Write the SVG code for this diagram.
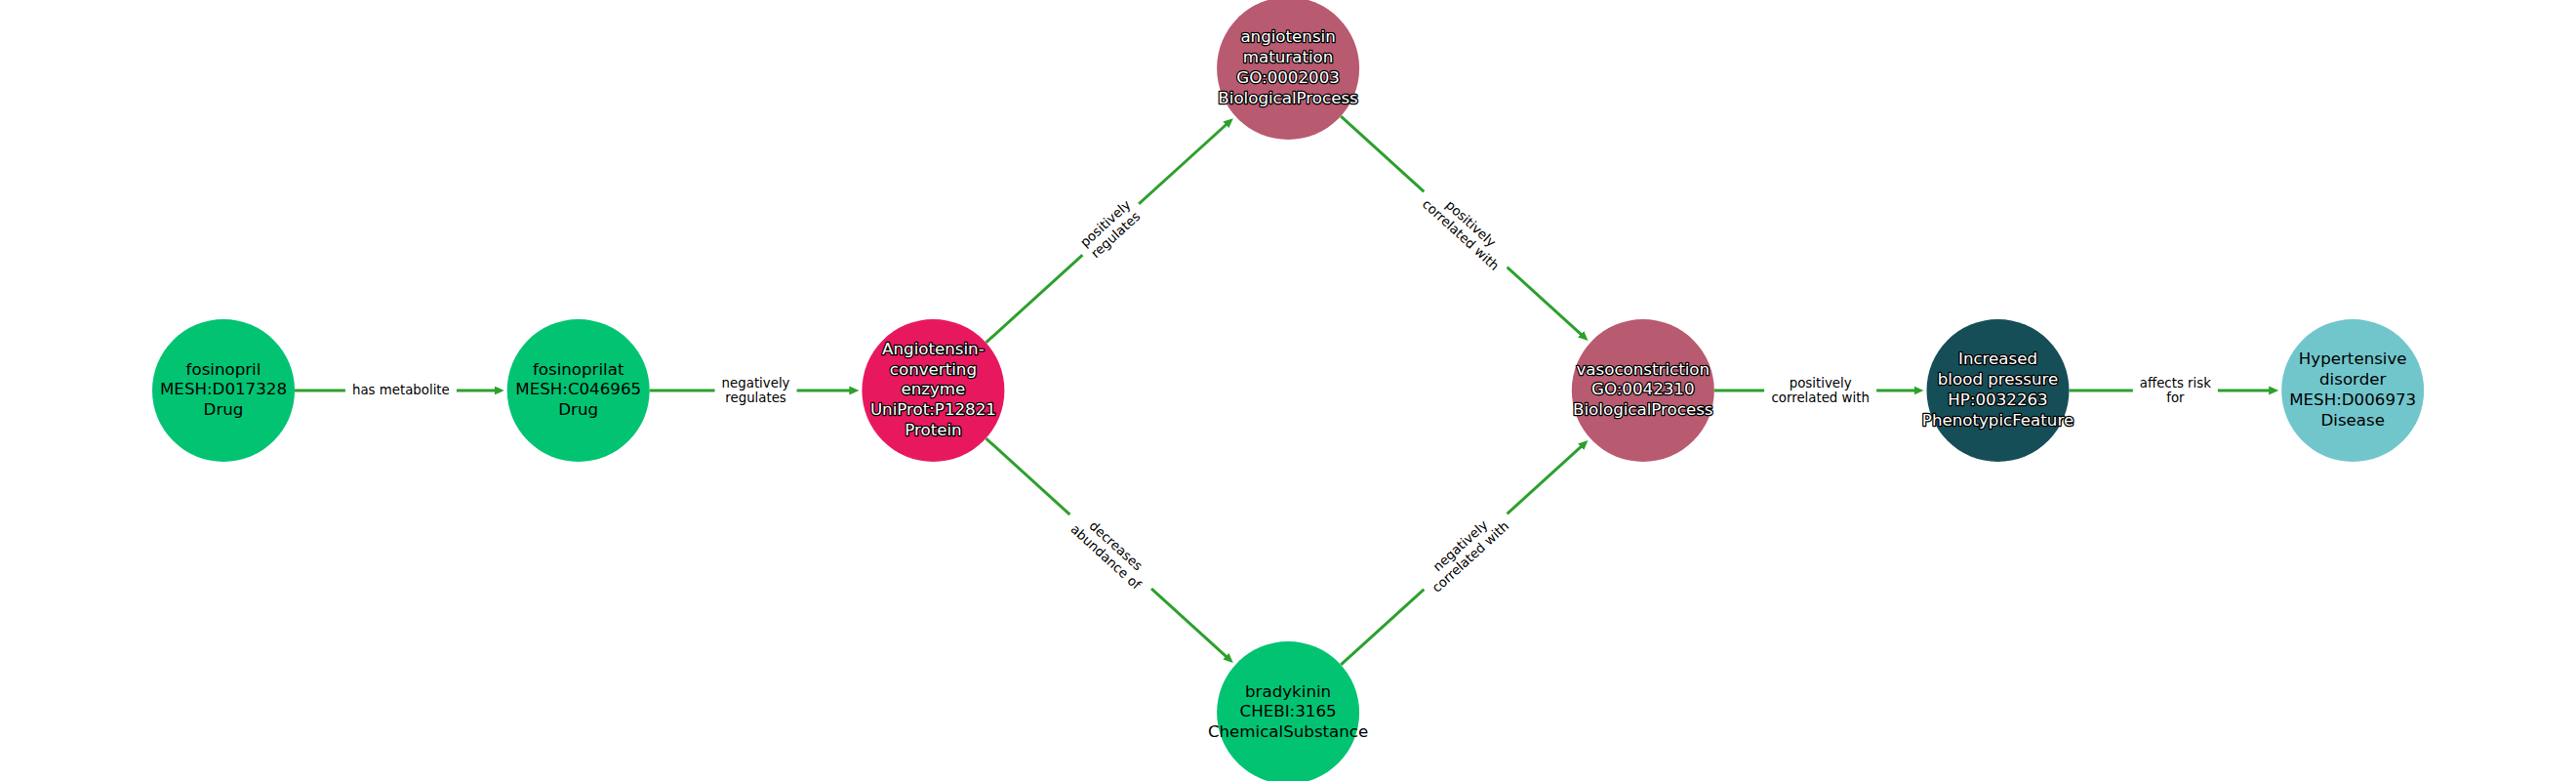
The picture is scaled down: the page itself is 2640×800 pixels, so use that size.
<svg xmlns="http://www.w3.org/2000/svg" width="2640" height="800" viewBox="0 0 2640 800">
<defs>
<marker id="ah" markerUnits="userSpaceOnUse" markerWidth="12" markerHeight="10" refX="2" refY="5" orient="auto">
<path d="M0,0.5 L10,5 L0,9.5 z" fill="#2ca02c"/>
</marker>
</defs>
<style>
.edge{stroke:#2ca02c;stroke-width:3;fill:none;marker-end:url(#ah)}
.lbox{fill:#ffffff;stroke:#ffffff;stroke-width:1}
.el{font-family:"DejaVu Sans",sans-serif;font-size:13.33px;fill:#000;text-anchor:middle}
.nl{font-family:"DejaVu Sans",sans-serif;font-size:16.67px;text-anchor:middle}
.dark{fill:#000}
.light{fill:#fff;stroke:#000;stroke-width:2.6;stroke-linejoin:round;paint-order:stroke}
.drug{fill:#02c372}
.prot{fill:#e8185f}
.bp{fill:#b85a70}
.pheno{fill:#164e57}
.dis{fill:#71c6cc}
</style>
<rect width="2640" height="800" fill="#ffffff"/>
<g id="connectors">
<line class="edge" x1="302" y1="400" x2="508.7" y2="400"/>
<line class="edge" x1="665.7" y1="400" x2="872.4" y2="400"/>
<line class="edge" x1="1010.5" y1="350.9" x2="1257.9" y2="126.5"/>
<line class="edge" x1="1374.2" y1="119.1" x2="1621.6" y2="343.6"/>
<line class="edge" x1="1010.5" y1="449.1" x2="1257.9" y2="673.6"/>
<line class="edge" x1="1374.2" y1="680.9" x2="1621.6" y2="456.4"/>
<line class="edge" x1="1756.8" y1="400" x2="1963.5" y2="400"/>
<line class="edge" x1="2120.5" y1="400" x2="2327.2" y2="400"/>
<g id="lbl-ab" transform="translate(410.85,400)">
<rect class="lbox" x="-56.5" y="-12" width="113" height="24" rx="4"/>
<text class="el" x="0" y="4.2">has metabolite</text>
</g>
<g id="lbl-bc" transform="translate(774.55,400)">
<rect class="lbox" x="-41.5" y="-20" width="83" height="40" rx="4"/>
<text class="el" x="0" y="-3.5">negatively</text>
<text class="el" x="0" y="12">regulates</text>
</g>
<g id="lbl-cd" transform="translate(1138.25,235) rotate(-42.2)">
<rect class="lbox" x="-38.5" y="-20" width="77" height="40" rx="4"/>
<text class="el" x="0" y="-3.5">positively</text>
<text class="el" x="0" y="12">regulates</text>
</g>
<g id="lbl-de" transform="translate(1501.95,235) rotate(42.2)">
<rect class="lbox" x="-57" y="-20" width="114" height="40" rx="4"/>
<text class="el" x="0" y="-3.5">positively</text>
<text class="el" x="0" y="12">correlated with</text>
</g>
<g id="lbl-ch" transform="translate(1138.25,565) rotate(42.2)">
<rect class="lbox" x="-56" y="-20" width="112" height="40" rx="4"/>
<text class="el" x="0" y="-3.5">decreases</text>
<text class="el" x="0" y="12">abundance of</text>
</g>
<g id="lbl-he" transform="translate(1501.95,565) rotate(-42.2)">
<rect class="lbox" x="-57" y="-20" width="114" height="40" rx="4"/>
<text class="el" x="0" y="-3.5">negatively</text>
<text class="el" x="0" y="12">correlated with</text>
</g>
<g id="lbl-ef" transform="translate(1865.65,400)">
<rect class="lbox" x="-57" y="-20" width="114" height="40" rx="4"/>
<text class="el" x="0" y="-3.5">positively</text>
<text class="el" x="0" y="12">correlated with</text>
</g>
<g id="lbl-fg" transform="translate(2229.35,400)">
<rect class="lbox" x="-43" y="-20" width="86" height="40" rx="4"/>
<text class="el" x="0" y="-3.5">affects risk</text>
<text class="el" x="0" y="12">for</text>
</g>
</g>
<g id="node-fosinopril">
<circle class="drug" cx="229" cy="400" r="73"/>
<text class="nl dark" x="229" y="383.6">fosinopril</text>
<text class="nl dark" x="229" y="404.4">MESH:D017328</text>
<text class="nl dark" x="229" y="425.2">Drug</text>
</g>
<g id="node-fosinoprilat">
<circle class="drug" cx="592.7" cy="400" r="73"/>
<text class="nl dark" x="592.7" y="383.6">fosinoprilat</text>
<text class="nl dark" x="592.7" y="404.4">MESH:C046965</text>
<text class="nl dark" x="592.7" y="425.2">Drug</text>
</g>
<g id="node-ace">
<circle class="prot" cx="956.4" cy="400" r="73"/>
<text class="nl light" x="956.4" y="362.8">Angiotensin-</text>
<text class="nl light" x="956.4" y="383.6">converting</text>
<text class="nl light" x="956.4" y="404.4">enzyme</text>
<text class="nl light" x="956.4" y="425.2">UniProt:P12821</text>
<text class="nl light" x="956.4" y="446">Protein</text>
</g>
<g id="node-angiotensin-maturation">
<circle class="bp" cx="1320.1" cy="70" r="73"/>
<text class="nl light" x="1320.1" y="43.2">angiotensin</text>
<text class="nl light" x="1320.1" y="64">maturation</text>
<text class="nl light" x="1320.1" y="84.8">GO:0002003</text>
<text class="nl light" x="1320.1" y="105.6">BiologicalProcess</text>
</g>
<g id="node-vasoconstriction">
<circle class="bp" cx="1683.8" cy="400" r="73"/>
<text class="nl light" x="1683.8" y="383.6">vasoconstriction</text>
<text class="nl light" x="1683.8" y="404.4">GO:0042310</text>
<text class="nl light" x="1683.8" y="425.2">BiologicalProcess</text>
</g>
<g id="node-increased-bp">
<circle class="pheno" cx="2047.5" cy="400" r="73"/>
<text class="nl light" x="2047.5" y="373.2">Increased</text>
<text class="nl light" x="2047.5" y="394">blood pressure</text>
<text class="nl light" x="2047.5" y="414.8">HP:0032263</text>
<text class="nl light" x="2047.5" y="435.6">PhenotypicFeature</text>
</g>
<g id="node-hypertensive">
<circle class="dis" cx="2411.2" cy="400" r="73"/>
<text class="nl dark" x="2411.2" y="373.2">Hypertensive</text>
<text class="nl dark" x="2411.2" y="394">disorder</text>
<text class="nl dark" x="2411.2" y="414.8">MESH:D006973</text>
<text class="nl dark" x="2411.2" y="435.6">Disease</text>
</g>
<g id="node-bradykinin">
<circle class="drug" cx="1320.1" cy="730" r="73"/>
<text class="nl dark" x="1320.1" y="713.6">bradykinin</text>
<text class="nl dark" x="1320.1" y="734.4">CHEBI:3165</text>
<text class="nl dark" x="1320.1" y="755.2">ChemicalSubstance</text>
</g>
</svg>
